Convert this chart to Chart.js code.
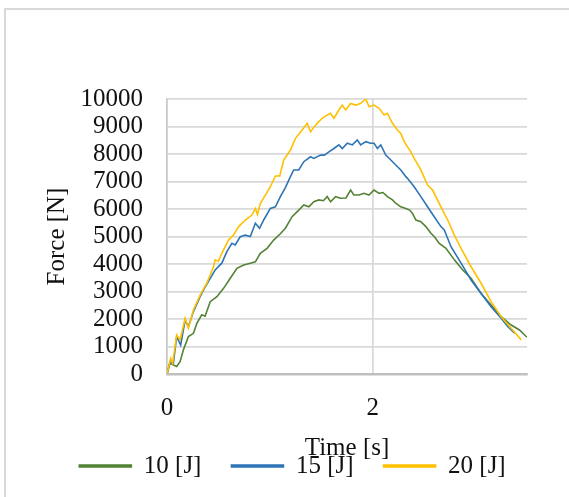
<!DOCTYPE html>
<html>
<head>
<meta charset="utf-8">
<script src="https://cdn.jsdelivr.net/npm/chart.js@4/dist/chart.umd.min.js"></script>
<style>
  html, body { margin: 0; padding: 0; background: #fff; overflow: hidden; }
  #frame { position: absolute; left: 4px; top: 8px; width: 700px; height: 700px;
           border-top: 2px solid #d9d9d9; border-left: 2px solid #d9d9d9; }
  #wrap { position: absolute; left: 0; top: 0; width: 569px; height: 497px; }
</style>
</head>
<body>
<div id="frame"></div>
<div id="wrap"><canvas id="c" width="569" height="497"></canvas></div>
<script>
// Impact force histories for three impact energies
const seriesLabels = ['10 [J]', '15 [J]', '20 [J]'];
const seriesColors = ['#548235', '#2e75b6', '#ffc000'];

const time10 = [0, 0.029, 0.062, 0.094, 0.127, 0.159, 0.208, 0.257, 0.29, 0.338, 0.37, 0.42, 0.485, 0.55, 0.615, 0.68, 0.745, 0.81, 0.859, 0.907, 0.973, 1.037, 1.102, 1.151, 1.216, 1.281, 1.33, 1.379, 1.428, 1.476, 1.52, 1.558, 1.59, 1.639, 1.688, 1.74, 1.785, 1.817, 1.866, 1.915, 1.963, 2.013, 2.062, 2.1, 2.143, 2.192, 2.224, 2.273, 2.322, 2.36, 2.387, 2.42, 2.468, 2.517, 2.566, 2.6, 2.647, 2.712, 2.794, 2.875, 2.956, 3.054, 3.151, 3.249, 3.346, 3.427, 3.5];
const force10 = [0, 390, 330, 270, 450, 870, 1360, 1480, 1840, 2150, 2100, 2630, 2810, 3115, 3480, 3840, 3960, 4030, 4080, 4390, 4570, 4870, 5100, 5300, 5720, 5960, 6145, 6080, 6265, 6330, 6300, 6450, 6265, 6450, 6390, 6400, 6690, 6510, 6510, 6570, 6510, 6690, 6570, 6600, 6450, 6330, 6210, 6080, 6020, 5960, 5840, 5600, 5540, 5360, 5115, 4990, 4750, 4570, 4150, 3780, 3480, 2930, 2510, 2085, 1780, 1600, 1335];

const time15 = [0, 0.029, 0.062, 0.094, 0.133, 0.176, 0.208, 0.257, 0.322, 0.354, 0.42, 0.468, 0.533, 0.582, 0.631, 0.663, 0.712, 0.761, 0.81, 0.859, 0.9, 0.94, 1.005, 1.054, 1.102, 1.151, 1.2, 1.232, 1.281, 1.33, 1.395, 1.428, 1.493, 1.53, 1.574, 1.623, 1.671, 1.704, 1.753, 1.802, 1.85, 1.883, 1.932, 1.98, 2.013, 2.046, 2.078, 2.127, 2.176, 2.224, 2.273, 2.322, 2.338, 2.403, 2.468, 2.533, 2.598, 2.663, 2.696, 2.761, 2.859, 2.956, 3.054, 3.151, 3.249, 3.314, 3.38];
const force15 = [0, 450, 390, 1360, 1050, 1960, 1720, 2270, 2810, 3050, 3480, 3780, 4030, 4450, 4750, 4690, 4990, 5050, 5000, 5480, 5300, 5600, 6020, 6080, 6450, 6780, 7175, 7420, 7420, 7720, 7900, 7840, 7960, 7960, 8080, 8200, 8330, 8200, 8390, 8330, 8510, 8330, 8450, 8390, 8390, 8200, 8330, 7960, 7780, 7600, 7420, 7175, 7115, 6810, 6450, 6080, 5720, 5360, 5240, 4630, 4030, 3420, 2930, 2450, 2025, 1720, 1480];

const time20 = [0, 0.036, 0.055, 0.094, 0.127, 0.176, 0.208, 0.257, 0.322, 0.387, 0.452, 0.468, 0.5, 0.533, 0.598, 0.647, 0.696, 0.761, 0.826, 0.859, 0.88, 0.907, 1.005, 1.054, 1.096, 1.135, 1.2, 1.249, 1.314, 1.363, 1.395, 1.46, 1.509, 1.558, 1.59, 1.623, 1.671, 1.704, 1.737, 1.785, 1.834, 1.883, 1.932, 1.965, 2.013, 2.062, 2.111, 2.143, 2.192, 2.24, 2.273, 2.306, 2.371, 2.403, 2.468, 2.533, 2.582, 2.663, 2.729, 2.794, 2.859, 2.956, 3.054, 3.151, 3.249, 3.346, 3.444];
const force20 = [0, 570, 390, 1420, 1240, 2020, 1660, 2330, 2870, 3300, 3900, 4150, 4100, 4390, 4870, 5050, 5360, 5600, 5780, 6020, 5800, 6200, 6810, 7200, 7200, 7780, 8145, 8570, 8870, 9115, 8810, 9115, 9300, 9420, 9480, 9300, 9600, 9780, 9600, 9840, 9780, 9840, 10000, 9720, 9780, 9660, 9420, 9480, 9115, 8870, 8750, 8450, 8080, 7840, 7420, 6870, 6690, 6080, 5600, 5050, 4570, 3900, 3300, 2630, 2085, 1660, 1240];

const timeSets = [time10, time15, time20];
const forceSets = [force10, force15, force20];

const FONT = '"Liberation Serif", "Times New Roman", serif';
const TEXT = '#111';
const plainNumber = (v) => String(v);

const datasets = seriesLabels.map((label, i) => ({
  label,
  data: timeSets[i].map((t, k) => ({ x: t, y: forceSets[i][k] })),
  borderColor: seriesColors[i],
  backgroundColor: seriesColors[i],
  borderWidth: 1.6,
  pointRadius: 0,
  tension: 0,
  fill: false,
  // later series are drawn on top
  order: seriesLabels.length - i
}));

// Centre the legend row under the whole frame rather than the padded area
const legendShift = {
  id: 'legendShift',
  afterLayout(chart) {
    const lg = chart.legend;
    if (lg) { lg.left += 29; lg.right += 29; }
  }
};

new Chart(document.getElementById('c'), {
  type: 'line',
  data: { datasets },
  plugins: [legendShift],
  options: {
    responsive: false,
    animation: false,
    layout: { padding: { left: 0, top: 99, right: 42, bottom: 8.5 } },
    plugins: {
      tooltip: { enabled: false },
      legend: {
        position: 'bottom',
        labels: {
          color: TEXT,
          font: { family: FONT, size: 25 },
          boxWidth: 52,
          boxHeight: 2,
          padding: 30,
          sort: (a, b) => a.datasetIndex - b.datasetIndex
        }
      }
    },
    scales: {
      x: {
        type: 'linear',
        min: 0,
        max: 3.5,
        afterFit: (s) => { s.height = 49.5; },
        ticks: {
          stepSize: 2,
          includeBounds: false,
          padding: 19,
          color: TEXT,
          font: { family: FONT, size: 25 },
          callback: plainNumber
        },
        grid: { color: '#d9d9d9', lineWidth: 1.75, drawTicks: false },
        border: { display: true, color: '#bfbfbf', width: 2.5 },
        title: {
          display: true,
          text: 'Time [s]',
          color: TEXT,
          font: { family: FONT, size: 25 },
          padding: { top: 0, bottom: -40 }
        }
      },
      y: {
        min: 0,
        max: 10000,
        afterFit: (s) => { s.width = 167; },
        ticks: {
          stepSize: 1000,
          autoSkip: false,
          padding: 24,
          color: TEXT,
          font: { family: FONT, size: 25 },
          callback: plainNumber
        },
        grid: { color: '#d9d9d9', lineWidth: 1.75, drawTicks: false },
        border: { display: true, color: '#c8c8c8', width: 1.5 },
        title: {
          display: true,
          text: 'Force [N]',
          color: TEXT,
          font: { family: FONT, size: 25 },
          padding: { top: 42, bottom: 0 }
        }
      }
    }
  }
});
</script>
</body>
</html>
